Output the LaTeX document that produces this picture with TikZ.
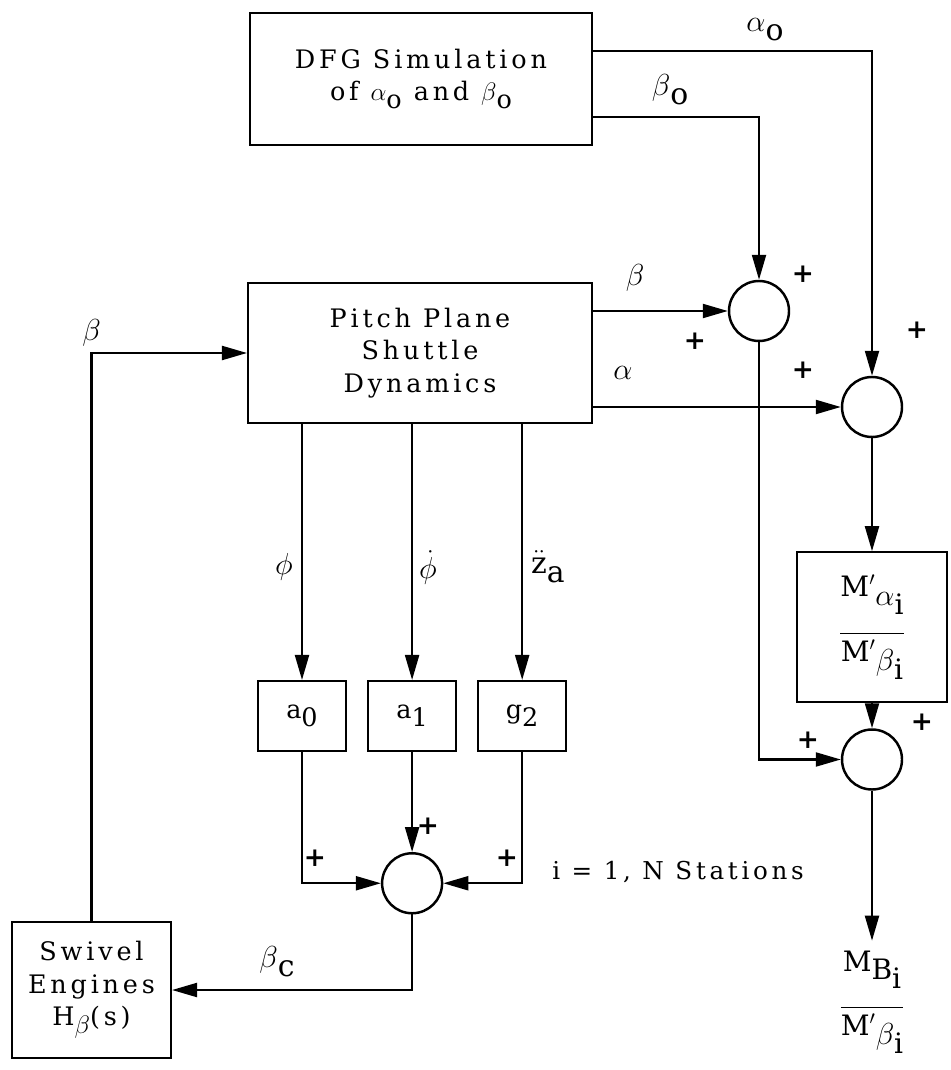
\documentclass[tikz,border=0pt]{standalone}
\usepackage{amsmath}
\usepackage{fontspec}
\setmainfont{DejaVu Serif}[LetterSpace=15]
\usetikzlibrary{positioning,arrows.meta,calc}
\newcommand{\dn}[1]{\raisebox{-0.6ex}{#1}}
\newcommand{\lowstrut}{\rule[-2.2ex]{0pt}{0pt}}
\tikzset{
  block/.style={
    draw, line width=1.2pt,
    align=center, inner sep=1mm,
    font=\fontsize{14.5}{18.5}\selectfont
  },
  gainblock/.style={
    block, minimum width=1.76cm, minimum height=1.4cm
  },
  sumnode/.style={
    draw, circle, line width=1.4pt,
    minimum size=1.2cm, inner sep=0pt
  },
  sig/.style={font=\fontsize{17}{20}\selectfont, inner sep=1pt},
  note/.style={font=\fontsize{14}{16}\selectfont, inner sep=1pt},
  sgn/.style={font=\fontsize{15}{16}\selectfont\bfseries, inner sep=0pt},
  arrow/.style={-{Triangle[length=5mm,width=2.8mm]}, line width=1.2pt}
}

\begin{document}
\begin{tikzpicture}[x=0.02cm, y=-0.02cm, line width=1.2pt]
  \useasboundingbox (0,0) rectangle (950,1070);

  % blocks
  \node[block, minimum width=6.84cm, minimum height=2.64cm] (dfg) at (421,79)
    {DFG Simulation\\of $\alpha$\dn{o} and $\beta$\dn{o}};
  \node[block, minimum width=6.88cm, minimum height=2.8cm] (pitch) at (420,353)
    {Pitch Plane\\Shuttle\\Dynamics};
  \node[block, minimum width=3.18cm, minimum height=2.72cm] (swivel) at (91.5,990)
    {Swivel\\Engines\\H\dn{$\beta$}(s)};

  \node[gainblock] (a0) at (302,716) {a\dn{0}};
  \node[gainblock, right=4mm of a0] (a1) {a\dn{1}};
  \node[gainblock, right=4mm of a1] (g2) {g\dn{2}};

  % summing junctions
  \node[sumnode] (sum1) at (759,311) {};
  \node[sumnode] (sum2) at (872,407) {};
  \node[block, minimum width=3.0cm, minimum height=3.0cm, below=2.26cm of sum2] (ratio)
    {\fontsize{16}{20}\selectfont$\dfrac{\text{M$'$\dn{$\alpha$\dn{i}}\lowstrut}}{\text{M$'$\dn{$\beta$\dn{i}}}}$};
  \node[sumnode, below=5mm of ratio] (sum3) {};
  \node[sumnode, below=2cm of a1] (sum4) {};

  \node[note, inner sep=5pt, below=3cm of sum3] (mb)
    {\fontsize{16}{20}\selectfont$\dfrac{\text{M\dn{B\dn{i}}\lowstrut}}{\text{M$'$\dn{$\beta$\dn{i}}}}$};

  % signal labels
  \node[sig] (lao) at (765,30) {$\alpha$\dn{o}};
  \node[sig] (lbo) at (670,90) {$\beta$\dn{o}};
  \node[sig] (lb) at (635,278) {$\beta$};
  \node[sig] (la) at (623,373) {$\alpha$};
  \node[sig] (lphi) at (284,567) {$\phi$};
  \node[sig] (ldphi) at (428,567) {$\dot{\phi}$};
  \node[sig] (lz) at (548,567) {$\ddot{\mathrm{z}}$\dn{a}};
  \node[sig] (lbc) at (277,962) {$\beta$\dn{c}};
  \node[note] (lst) at (678,872) {i = 1, N Stations};

  \foreach \px/\py [count=\k] in {803/274, 695/341, 803/370, 917/330,
      922/722, 808/740, 428/826, 315/858, 507/858}
    \node[sgn] (plus\k) at (\px,\py) {+};

  % connectors
  \draw[arrow] ([yshift=-0.78cm]dfg.north east) -| (sum2.north);
  \draw[arrow] ([yshift=0.58cm]dfg.south east) -| (sum1.north);
  \draw[arrow] (pitch.east |- sum1.west) -- (sum1.west);
  \draw[arrow] (pitch.east |- sum2.west) -- (sum2.west);
  \draw[arrow] (sum2.south) -- (ratio.north);
  \draw[arrow] (ratio.south) -- (sum3.north);
  \draw[arrow] (sum1.south) |- (sum3.west);
  \draw[arrow] (sum3.south) -- (mb.north);

  \draw[arrow] (pitch.south -| a0.north) -- (a0.north);
  \draw[arrow] (pitch.south -| a1.north) -- (a1.north);
  \draw[arrow] (pitch.south -| g2.north) -- (g2.north);
  \draw[arrow] (a0.south) |- (sum4.west);
  \draw[arrow] (a1.south) -- (sum4.north);
  \draw[arrow] (g2.south) |- (sum4.east);
  \draw[arrow] (sum4.south) |- (swivel.east);

  \coordinate (fb) at (swivel.north |- pitch.west);
  \draw[arrow] (swivel.north) -- (fb) -- (pitch.west);
  \node[sig, above=2pt of fb] (lbfb) {$\beta$};
\end{tikzpicture}
\end{document}
